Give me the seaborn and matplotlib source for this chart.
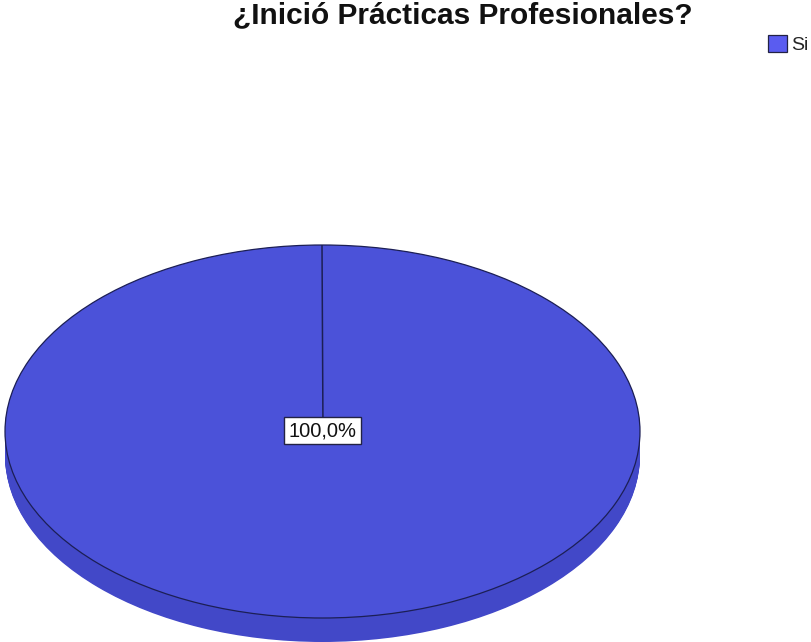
import matplotlib
matplotlib.use("Agg")
import numpy as np
import matplotlib.pyplot as plt
from matplotlib.patches import Patch
import seaborn as sns

sns.set_theme(style="white")
plt.rcParams['font.family'] = ['Liberation Sans', 'DejaVu Sans']

# Data
categories = ["Si"]
percentages = [100.0]
title = "¿Inició Prácticas Profesionales?"

top_color = "#4b52d9"
side_color = "#4248c8"
legend_color = "#5a5cf0"
edge_color = "#1c1f55"

W, H = 811, 642
fig = plt.figure(figsize=(W / 100, H / 100), dpi=100)
fig.patch.set_facecolor("white")

# Pie area: face spans x 5..640 px, top at 245 px, face bottom at 618 px, rim to 642 px
left_px, right_px, top_px, face_bottom_px, bottom_px = 5, 640, 245, 618, 642
ry_px = (face_bottom_px - top_px) / 2
depth = (bottom_px - face_bottom_px) / ry_px
ax = fig.add_axes([left_px / W, (H - bottom_px) / H,
                   (right_px - left_px) / W, (bottom_px - top_px) / H])

# Rim: stacked copies of the disc shifted downward
n_layers = 30
for i in range(n_layers, 0, -1):
    off = depth * i / n_layers
    ax.pie(percentages, radius=1, center=(0, -off), startangle=90,
           counterclock=False, colors=[side_color],
           wedgeprops=dict(linewidth=0))

# Top face
wedges, texts, autotexts = ax.pie(
    percentages, radius=1, center=(0, 0), startangle=90, counterclock=False,
    colors=[top_color], autopct=lambda p: f"{p:.1f}%".replace(".", ","),
    pctdistance=0.0,
    wedgeprops=dict(edgecolor=edge_color, linewidth=0.9),
    textprops=dict(fontsize=14.5, color="#111111"))

# Slice boundary lines from the centre to each wedge's start angle
for w in wedges:
    cx, cy = w.center
    for ang in {w.theta1 % 360, w.theta2 % 360}:
        a = np.deg2rad(ang)
        ax.plot([cx, cx + w.r * np.cos(a)], [cy, cy + w.r * np.sin(a)],
                color=edge_color, linewidth=1.1, zorder=3)

for t in autotexts:
    t.set_bbox(dict(boxstyle="square,pad=0.2", facecolor="white",
                    edgecolor="#222244", linewidth=1.0))
    t.set_y(0.005)
    t.set_zorder(5)

ax.set_aspect("auto")
ax.set_xlim(-1, 1)
ax.set_ylim(-1 - depth, 1)
ax.axis("off")

fig.text(463 / W, 1 - 15 / H, title, ha="center", va="center",
         fontsize=21.5, fontweight="bold", color="#111111")

handles = [Patch(facecolor=legend_color, edgecolor="#222244", linewidth=0.9)]
fig.legend(handles, categories, loc="upper right",
           bbox_to_anchor=(809 / W, 1 - 35 / H),
           frameon=False, fontsize=14, handlelength=0.95, handleheight=0.95,
           handletextpad=0.25, borderpad=0.0, borderaxespad=0.0)

fig.savefig("out.png", dpi=100, facecolor="white")
